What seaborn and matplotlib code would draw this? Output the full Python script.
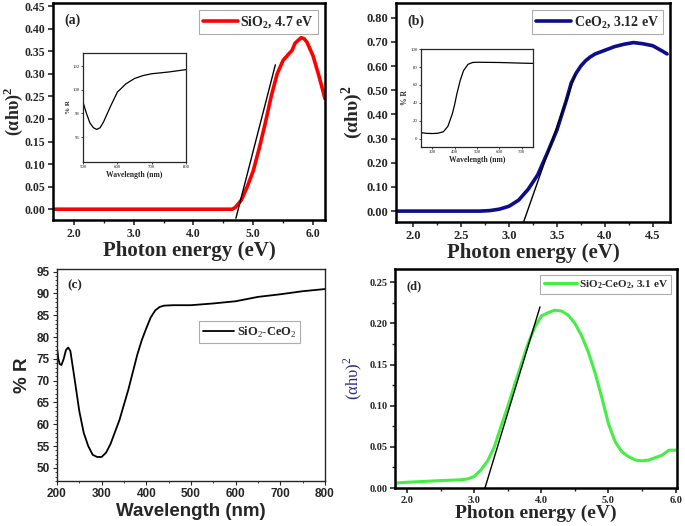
import numpy as np
import pandas as pd
import matplotlib
matplotlib.use("Agg")
import matplotlib.pyplot as plt
import seaborn as sns
from matplotlib.ticker import MultipleLocator, FormatStrFormatter

# ---- (a) SiO2 Tauc plot + inset reflectance ----
energy_a = [1.65, 2.5, 3.5, 4.5, 4.65, 4.7, 4.8, 4.9, 5.0, 5.1, 5.2, 5.3, 5.4, 5.5,
            5.6, 5.65, 5.7, 5.8, 5.85, 5.9, 6.0, 6.1, 6.2]
tauc_a = [0.0, 0.0, 0.0, 0.0, 0.0, 0.004, 0.02, 0.05, 0.085, 0.135, 0.19, 0.25, 0.3,
          0.33, 0.345, 0.352, 0.368, 0.38, 0.378, 0.37, 0.34, 0.295, 0.245]
fit_a_x = [4.71, 5.37]
fit_a_y = [-0.02, 0.32]
wl_a = [500, 510, 520, 530, 540, 550, 560, 580, 600, 625, 650, 675, 700, 750, 800]
refl_a = [98.95, 98.0, 97.2, 96.8, 96.65, 96.8, 97.3, 98.6, 99.8, 100.5, 100.95, 101.2,
          101.35, 101.5, 101.7]

# ---- (b) CeO2 Tauc plot + inset reflectance ----
energy_b = [1.82, 2.3, 2.7, 2.8, 2.9, 3.0, 3.1, 3.2, 3.3, 3.4, 3.5, 3.6, 3.65, 3.7,
            3.75, 3.8, 3.85, 3.9, 4.0, 4.1, 4.2, 4.3, 4.4, 4.5, 4.6, 4.65]
tauc_b = [0.0, 0.0, 0.0, 0.002, 0.008, 0.02, 0.045, 0.09, 0.15, 0.24, 0.335, 0.46,
          0.53, 0.57, 0.6, 0.622, 0.638, 0.65, 0.665, 0.68, 0.69, 0.697, 0.692, 0.684,
          0.662, 0.65]
fit_b_x = [3.15, 3.69]
fit_b_y = [-0.048, 0.562]
wl_b = [250, 275, 300, 325, 350, 370, 390, 400, 410, 425, 440, 460, 480, 500, 600, 700, 750]
refl_b = [7, 6.2, 6, 6.3, 8, 14, 28, 38, 50, 65, 76, 83, 85, 85.3, 85, 84.3, 84]

# ---- (c) SiO2-CeO2 reflectance ----
wl_c = [200, 203, 206, 210, 215, 220, 225, 230, 240, 250, 260, 270, 280, 290, 300,
        310, 320, 340, 360, 380, 390, 400, 410, 420, 430, 440, 460, 500, 550, 600,
        650, 700, 750, 800]
refl_c = [77.5, 75, 73.8, 73.6, 75, 77, 77.6, 76.8, 70, 63, 58, 55, 53, 52.5, 52.5,
          53.5, 55.5, 61, 68, 76, 79.3, 82, 84.5, 86.1, 86.9, 87.2, 87.3, 87.3, 87.7,
          88.2, 89.2, 89.8, 90.5, 91]

# ---- (d) SiO2-CeO2 Tauc plot ----
energy_d = [1.82, 2.0, 2.5, 2.8, 2.9, 3.0, 3.1, 3.2, 3.3, 3.4, 3.5, 3.6, 3.7, 3.8, 3.9,
            4.0, 4.1, 4.2, 4.3, 4.4, 4.5, 4.6, 4.7, 4.8, 4.9, 5.0, 5.1, 5.2, 5.3, 5.4,
            5.5, 5.6, 5.7, 5.8, 5.9, 6.0]
tauc_d = [0.006, 0.007, 0.009, 0.01, 0.011, 0.014, 0.022, 0.033, 0.05, 0.075, 0.099,
          0.125, 0.15, 0.175, 0.195, 0.209, 0.213, 0.216, 0.215, 0.21, 0.2, 0.185,
          0.165, 0.14, 0.11, 0.078, 0.056, 0.044, 0.038, 0.034, 0.033, 0.034, 0.037,
          0.04, 0.046, 0.046]
fit_d_x = [3.16, 3.98]
fit_d_y = [0.0, 0.22]

sns.set_style("ticks")
plt.rcParams['font.family'] = ['Liberation Serif', 'DejaVu Serif']
plt.rcParams['mathtext.fontset'] = 'custom'
plt.rcParams['mathtext.rm'] = 'Liberation Serif'
plt.rcParams['mathtext.bf'] = 'Liberation Serif:bold'
plt.rcParams['xtick.direction'] = 'out'
plt.rcParams['ytick.direction'] = 'out'

fig = plt.figure(figsize=(6.85, 5.26), dpi=100)
ax_a = fig.add_axes([0.0774, 0.5817, 0.397, 0.4126])
ax_b = fig.add_axes([0.578, 0.578, 0.40, 0.416])
ax_c = fig.add_axes([0.0832, 0.0856, 0.391, 0.403])
ax_d = fig.add_axes([0.5766, 0.0722, 0.4117, 0.4163])
in_a = fig.add_axes([0.1212, 0.692, 0.1504, 0.2072])
in_b = fig.add_axes([0.6146, 0.7205, 0.1635, 0.1863])

TAUC_LABEL = '(αhυ)$^\\mathbf{2}$'


def style_tauc(ax, tick_size, lw=1.8):
    for s in ax.spines.values():
        s.set_linewidth(lw)
        s.set_color('black')
    ax.tick_params(which='major', length=3.5, width=1.2, labelsize=tick_size, pad=2)
    ax.tick_params(which='minor', length=2, width=1.0)
    for lab in ax.get_xticklabels() + ax.get_yticklabels():
        lab.set_fontweight('bold')


# (a)
sns.lineplot(x=energy_a, y=tauc_a, ax=ax_a, color='#ff0000', lw=2.6,
             label='SiO$_\\mathbf{2}$, 4.7 eV')
sns.lineplot(x=fit_a_x, y=fit_a_y, ax=ax_a, color='black', lw=1.0)
ax_a.set_xlim(1.65, 6.2)
ax_a.set_ylim(-0.024, 0.457)
ax_a.xaxis.set_major_locator(MultipleLocator(1.0))
ax_a.xaxis.set_minor_locator(MultipleLocator(0.5))
ax_a.yaxis.set_major_locator(MultipleLocator(0.05))
ax_a.xaxis.set_major_formatter(FormatStrFormatter('%.1f'))
ax_a.yaxis.set_major_formatter(FormatStrFormatter('%.2f'))
style_tauc(ax_a, 8.5)
ax_a.set_xlabel('Photon energy (eV)', fontsize=15, fontweight='bold', labelpad=1)
ax_a.set_ylabel(TAUC_LABEL, fontsize=13, fontweight='bold')
ax_a.yaxis.set_label_coords(-0.102, 0.5)
ax_a.text(0.04, 0.95, '(a)', transform=ax_a.transAxes, fontsize=10,
          fontweight='bold', va='top')
leg = ax_a.legend(loc='upper right', frameon=True, fancybox=False, handlelength=2.5,
                  handletextpad=0.2, borderpad=0.3, prop={'weight': 'bold', 'size': 10})
leg.get_frame().set_edgecolor('#999999')
leg.get_frame().set_linewidth(0.8)

sns.lineplot(x=wl_a, y=refl_a, ax=in_a, color='black', lw=0.9)
in_a.set_xlim(500, 800)
in_a.set_ylim(93.9, 103.1)
in_a.set_xticks([500, 600, 700, 800])
in_a.set_yticks([96, 98, 100, 102])
in_a.tick_params(labelsize=3.5, length=1.5, width=0.6, pad=1)
in_a.set_xlabel('Wavelength (nm)', fontsize=5.5, fontweight='bold', labelpad=1)
in_a.set_ylabel('% R', fontsize=5, fontweight='bold', labelpad=1)
for s in in_a.spines.values():
    s.set_linewidth(0.9)

# (b)
sns.lineplot(x=energy_b, y=tauc_b, ax=ax_b, color='#0c0c8c', lw=2.6,
             label='CeO$_\\mathbf{2}$, 3.12 eV')
sns.lineplot(x=fit_b_x, y=fit_b_y, ax=ax_b, color='black', lw=1.0)
ax_b.set_xlim(1.82, 4.68)
ax_b.set_ylim(-0.045, 0.86)
ax_b.xaxis.set_major_locator(MultipleLocator(0.5))
ax_b.xaxis.set_minor_locator(MultipleLocator(0.25))
ax_b.yaxis.set_major_locator(MultipleLocator(0.10))
ax_b.xaxis.set_major_formatter(FormatStrFormatter('%.1f'))
ax_b.yaxis.set_major_formatter(FormatStrFormatter('%.2f'))
style_tauc(ax_b, 9)
ax_b.set_xlabel('Photon energy (eV)', fontsize=15, fontweight='bold', labelpad=1)
ax_b.set_ylabel(TAUC_LABEL, fontsize=14, fontweight='bold')
ax_b.yaxis.set_label_coords(-0.113, 0.5)
ax_b.text(0.04, 0.95, '(b)', transform=ax_b.transAxes, fontsize=10,
          fontweight='bold', va='top')
leg = ax_b.legend(loc='upper right', frameon=True, fancybox=False, handlelength=2.5,
                  handletextpad=0.2, borderpad=0.3, prop={'weight': 'bold', 'size': 10})
leg.get_frame().set_edgecolor('#999999')
leg.get_frame().set_linewidth(0.8)

sns.lineplot(x=wl_b, y=refl_b, ax=in_b, color='black', lw=0.9)
in_b.set_xlim(250, 750)
in_b.set_ylim(-9, 100)
in_b.set_xticks([300, 400, 500, 600, 700])
in_b.set_yticks([0, 20, 40, 60, 80, 100])
in_b.tick_params(labelsize=3.5, length=1.5, width=0.6, pad=1)
in_b.set_xlabel('Wavelength (nm)', fontsize=5.5, fontweight='bold', labelpad=1)
in_b.set_ylabel('% R', fontsize=5.5, fontweight='bold', labelpad=1)
for s in in_b.spines.values():
    s.set_linewidth(0.9)

# (c)
sns.lineplot(x=wl_c, y=refl_c, ax=ax_c, color='black', lw=1.3,
             label='SiO$_2$-CeO$_2$')
ax_c.set_xlim(200, 800)
ax_c.set_ylim(47, 95.6)
ax_c.xaxis.set_major_locator(MultipleLocator(100))
ax_c.xaxis.set_minor_locator(MultipleLocator(50))
ax_c.yaxis.set_major_locator(MultipleLocator(5))
ax_c.yaxis.set_minor_locator(MultipleLocator(1))
for s in ax_c.spines.values():
    s.set_linewidth(1.0)
ax_c.tick_params(which='major', length=3, width=0.8, labelsize=8.5, pad=2)
ax_c.tick_params(which='minor', length=1.5, width=0.6)
for lab in ax_c.get_xticklabels() + ax_c.get_yticklabels():
    lab.set_family('Liberation Sans')
    lab.set_fontweight('bold')
ax_c.set_xlabel('Wavelength (nm)', fontsize=13.5, fontweight='bold',
                family='Liberation Sans', labelpad=2)
ax_c.set_ylabel('% R', fontsize=13.5, fontweight='bold',
                family='Liberation Sans', labelpad=4)
ax_c.text(0.04, 0.95, '(c)', transform=ax_c.transAxes, fontsize=9.5,
          fontweight='bold', va='top')
leg = ax_c.legend(loc='upper right', bbox_to_anchor=(0.93, 0.785), frameon=True,
                  fancybox=False, handlelength=2.5, handletextpad=0.2, borderpad=0.3,
                  prop={'weight': 'bold', 'size': 9})
leg.get_frame().set_edgecolor('#999999')
leg.get_frame().set_linewidth(0.8)

# (d)
sns.lineplot(x=energy_d, y=tauc_d, ax=ax_d, color='#44ee44', lw=2.2,
             label='SiO$_\\mathbf{2}$-CeO$_\\mathbf{2}$, 3.1 eV')
sns.lineplot(x=fit_d_x, y=fit_d_y, ax=ax_d, color='black', lw=1.0)
ax_d.set_xlim(1.82, 6.02)
ax_d.set_ylim(0.0, 0.266)
ax_d.xaxis.set_major_locator(MultipleLocator(1.0))
ax_d.xaxis.set_minor_locator(MultipleLocator(0.5))
ax_d.yaxis.set_major_locator(MultipleLocator(0.05))
ax_d.yaxis.set_minor_locator(MultipleLocator(0.025))
ax_d.xaxis.set_major_formatter(FormatStrFormatter('%.1f'))
ax_d.yaxis.set_major_formatter(FormatStrFormatter('%.2f'))
style_tauc(ax_d, 7.5)
ax_d.set_xlabel('Photon energy (eV)', fontsize=14, fontweight='bold', labelpad=0)
ax_d.set_ylabel('(αhυ)$^2$', fontsize=12, color='#2a2a8a', labelpad=4)
ax_d.text(0.04, 0.95, '(d)', transform=ax_d.transAxes, fontsize=9,
          fontweight='bold', va='top')
leg = ax_d.legend(loc='upper right', frameon=True, fancybox=False, handlelength=3,
                  handletextpad=0.2, borderpad=0.3, prop={'weight': 'bold', 'size': 8})
leg.get_frame().set_edgecolor('#999999')
leg.get_frame().set_linewidth(0.8)

fig.savefig('out.png', dpi=100)
